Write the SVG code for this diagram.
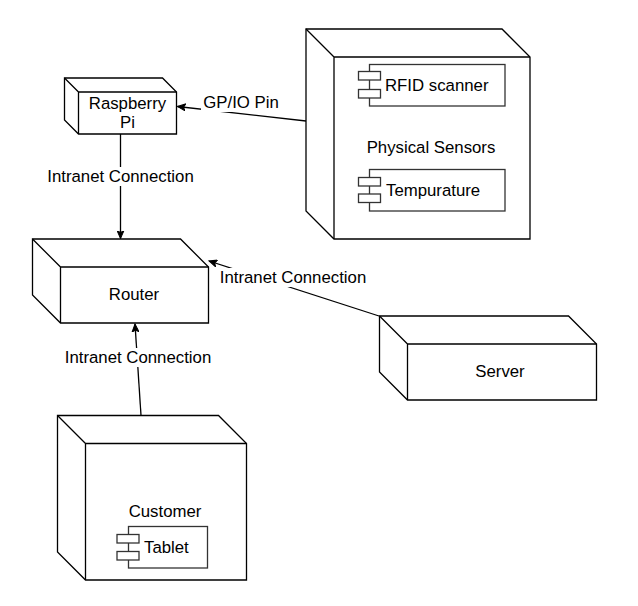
<svg xmlns="http://www.w3.org/2000/svg" width="638" height="606" viewBox="0 0 638 606">
<defs>
<style>
.n{fill:#fff;stroke:#000;stroke-width:1.3;stroke-linejoin:miter}
.e{fill:none;stroke:#000;stroke-width:1.3}
.c{fill:#fff;stroke:#333;stroke-width:1.3}
.t{font-family:"Liberation Sans",Arial,sans-serif;font-size:16.8px;fill:#000}
.m{text-anchor:middle}
.bg{fill:#fff;stroke:none}
</style>
<marker id="arr" markerUnits="userSpaceOnUse" markerWidth="10" markerHeight="8" refX="8" refY="4" orient="auto">
<path d="M0,0.5 L8,4 L0,7.5 L2,4 Z" fill="#000" stroke="#000" stroke-width="1"/>
</marker>
</defs>
<rect width="638" height="606" fill="#fff"/>

<g id="connectors">
<g id="c-pi-router">
<line class="e" x1="120.5" y1="134" x2="120.5" y2="238.5" marker-end="url(#arr)"/>
<rect class="bg" x="45" y="167" width="151" height="19"/>
<text class="t m" x="120.5" y="181.5">Intranet Connection</text>
</g>
<g id="c-sensors-pi">
<line class="e" x1="306" y1="121" x2="177.5" y2="106.5" marker-end="url(#arr)"/>
<rect class="bg" x="201" y="93" width="80" height="19"/>
<text class="t m" x="241" y="107.5">GP/IO Pin</text>
</g>
<g id="c-server-router">
<line class="e" x1="379" y1="316" x2="209" y2="261" marker-end="url(#arr)"/>
<rect class="bg" x="218" y="268" width="151" height="19"/>
<text class="t m" x="293" y="282.5">Intranet Connection</text>
</g>
<g id="c-customer-router">
<line class="e" x1="141" y1="415.5" x2="135" y2="324" marker-end="url(#arr)"/>
<rect class="bg" x="63" y="348" width="151" height="19"/>
<text class="t m" x="138" y="362.5">Intranet Connection</text>
</g>
</g>

<g id="raspberry-pi">
<path class="n" d="M64.5,78 L162.5,78 L176.5,92 L176.5,134 L78.5,134 L64.5,120 Z"/>
<path class="n" d="M64.5,78 L78.5,92 M78.5,92 L176.5,92 M78.5,92 L78.5,134"/>
<text class="t m" x="127.5" y="108.5">Raspberry</text>
<text class="t m" x="127.5" y="127.5">Pi</text>
</g>

<g id="physical-sensors">
<path class="n" d="M306,29 L502,29 L530,57 L530,239 L334,239 L306,211 Z"/>
<path class="n" d="M306,29 L334,57 M334,57 L530,57 M334,57 L334,239"/>
<text class="t m" x="431" y="152.5">Physical Sensors</text>
<g id="rfid-scanner">
<rect class="c" x="369.5" y="64.5" width="135.5" height="41.5"/>
<rect class="c" x="358.5" y="71.5" width="22" height="8.5"/>
<rect class="c" x="358.5" y="89.5" width="22" height="8.5"/>
<text class="t" x="385" y="91">RFID scanner</text>
</g>
<g id="tempurature">
<rect class="c" x="369.5" y="169.5" width="135.5" height="41.5"/>
<rect class="c" x="358.5" y="177.5" width="22" height="8.5"/>
<rect class="c" x="358.5" y="194" width="22" height="8.5"/>
<text class="t" x="386" y="196">Tempurature</text>
</g>
</g>

<g id="router">
<path class="n" d="M32.5,239 L180.5,239 L208.5,267 L208.5,323 L60.5,323 L32.5,295 Z"/>
<path class="n" d="M32.5,239 L60.5,267 M60.5,267 L208.5,267 M60.5,267 L60.5,323"/>
<text class="t m" x="134" y="300">Router</text>
</g>

<g id="server">
<path class="n" d="M379.5,316 L568.5,316 L596.5,344 L596.5,400 L407.5,400 L379.5,372 Z"/>
<path class="n" d="M379.5,316 L407.5,344 M407.5,344 L596.5,344 M407.5,344 L407.5,400"/>
<text class="t m" x="500" y="377">Server</text>
</g>

<g id="customer">
<path class="n" d="M57.5,415.5 L218.5,415.5 L246.5,443.5 L246.5,580 L85.5,580 L57.5,552 Z"/>
<path class="n" d="M57.5,415.5 L85.5,443.5 M85.5,443.5 L246.5,443.5 M85.5,443.5 L85.5,580"/>
<text class="t m" x="165" y="517">Customer</text>
<g id="tablet">
<rect class="c" x="128.5" y="526.5" width="79" height="41.5"/>
<rect class="c" x="117" y="534.5" width="22" height="8.5"/>
<rect class="c" x="117" y="551.5" width="22" height="8.5"/>
<text class="t" x="144" y="553">Tablet</text>
</g>
</g>
</svg>
